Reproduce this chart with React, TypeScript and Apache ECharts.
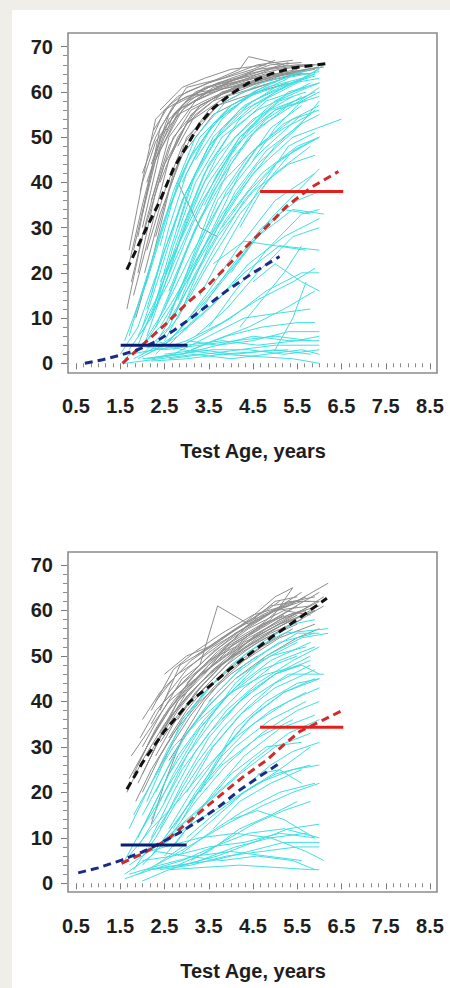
import React, { useEffect, useRef } from "react";
import * as echarts from "echarts";

type Pt = [number, number];

// ---------- TOP PANEL ----------
const topGrey: Pt[][] = [
  [[1.7,22],[2.0,35],[2.4,50],[3.0,57],[3.6,60]],
  [[1.8,25],[2.2,42],[2.6,54],[3.2,59],[4.0,62],[4.8,64]],
  [[2.25,51.5],[2.6,57],[3.0,60],[3.5,62],[4.2,65],[4.4,67.8],[5.2,66]],
  [[1.9,20],[2.3,38],[2.7,50],[3.3,57],[4.1,61],[5.0,63.5],[5.8,65]],
  [[2.0,30],[2.4,47],[2.9,56],[3.6,61],[4.5,63],[5.5,65]],
  [[1.8,15],[2.2,30],[2.6,45],[3.1,55],[3.8,60],[4.6,62],[5.6,64]],
  [[2.1,40],[2.5,52],[3.0,58],[3.7,61],[4.4,64],[5.3,66]],
  [[1.65,12],[2.0,28],[2.5,44],[3.0,53],[3.9,59],[4.9,62]],
  [[2.3,45],[2.7,55],[3.2,60],[4.0,63],[4.9,66],[5.6,66.5]],
  [[2.0,33],[2.3,45],[2.8,55],[3.4,58],[4.3,62],[5.1,64],[6.0,65.5]],
  [[1.9,28],[2.4,52],[2.8,58],[3.5,61],[4.4,63.5]],
  [[2.2,36],[2.6,48],[3.1,56],[3.9,60],[4.8,63],[5.9,65]],
  [[2.4,40],[2.8,50],[3.3,57],[4.1,61],[5.0,64],[5.8,64]],
  [[2.1,25],[2.5,38],[2.9,48],[3.5,56],[4.3,60],[5.2,63]],
  [[1.75,18],[2.1,32],[2.6,50],[3.2,58],[4.0,61.5],[4.7,63.5],[5.5,64]],
  [[2.5,50],[2.9,57],[3.4,61],[4.2,63],[5.1,65],[5.9,66]],
  [[2.0,42],[2.3,50],[2.7,57],[3.3,60],[4.0,61],[4.9,63]],
  [[2.6,45],[3.0,53],[3.6,58],[4.5,61.5],[5.4,64.5],[6.1,65.5]],
  [[2.3,28],[2.7,42],[3.1,50],[3.7,57],[4.6,60],[5.3,62]],
  [[1.95,38],[2.3,54],[2.8,59],[3.5,62],[4.5,65],[5.0,67]],
  [[2.8,48],[3.2,55],[3.8,59.5],[4.6,62],[5.5,64]],
  [[2.2,44],[2.6,55],[3.0,61],[3.8,63],[4.6,66],[5.4,67]],
  [[2.05,20],[2.4,33],[2.9,46],[3.6,55],[4.4,59]],
  [[1.85,10],[2.2,22],[2.6,38],[3.0,50],[3.7,57]],
  [[2.7,55],[3.1,59],[3.7,62],[4.5,64],[5.3,66.5]],
  [[3.0,57],[3.5,60],[4.1,62],[4.9,65],[5.7,66]],
  [[2.4,56],[2.9,61],[3.4,63],[4.0,65],[4.8,66]],
  [[3.3,59],[3.9,62],[4.6,65],[5.5,66],[6.0,66]],
  [[2.15,48],[2.5,56],[3.0,59],[3.6,60],[4.3,62]],
  [[1.7,25],[2.0,40],[2.3,49],[2.8,56],[3.4,59]],
  [[2.8,40],[3.3,30],[3.7,28]],
];

const topCyan: Pt[][] = [
  [[1.8,10],[2.2,22],[2.7,38],[3.2,50],[3.9,58],[4.7,62],[5.6,64.5]],
  [[2.0,8],[2.4,20],[2.9,36],[3.5,48],[4.3,56],[5.2,61],[6.0,65]],
  [[2.2,15],[2.6,30],[3.0,42],[3.6,53],[4.4,59],[5.3,63]],
  [[1.6,5],[2.1,18],[2.6,34],[3.1,46],[3.8,55],[4.6,60]],
  [[2.4,26],[2.8,40],[3.3,50],[4.0,57],[4.9,62],[5.8,65]],
  [[2.1,12],[2.5,25],[3.0,38],[3.7,50],[4.5,57],[5.5,62],[6.1,66]],
  [[2.6,20],[3.0,32],[3.5,44],[4.2,54],[5.0,60],[5.9,64]],
  [[1.9,6],[2.3,14],[2.8,26],[3.4,40],[4.1,50],[5.0,58],[5.8,62]],
  [[2.3,8],[2.8,20],[3.3,32],[4.0,45],[4.8,54],[5.6,59]],
  [[1.7,3],[2.2,10],[2.7,22],[3.3,35],[4.1,48],[5.0,56],[5.9,60]],
  [[2.5,12],[3.0,25],[3.6,38],[4.4,50],[5.3,57],[6.0,59]],
  [[2.0,4],[2.5,12],[3.1,24],[3.8,36],[4.6,46],[5.6,55]],
  [[2.7,10],[3.2,22],[3.8,33],[4.6,44],[5.5,52],[6.0,58]],
  [[1.8,2],[2.4,8],[3.0,18],[3.7,30],[4.5,42],[5.4,50],[6.5,54]],
  [[2.2,3],[2.8,10],[3.5,22],[4.2,33],[5.0,42],[5.8,48]],
  [[2.5,5],[3.0,14],[3.6,25],[4.3,36],[5.1,45],[6.0,50]],
  [[1.6,1],[2.1,5],[2.7,14],[3.4,26],[4.2,38],[5.0,48],[5.9,56]],
  [[2.3,2],[2.9,8],[3.5,16],[4.2,26],[5.0,36],[5.9,42]],
  [[2.6,4],[3.2,10],[3.9,20],[4.7,30],[5.5,36],[6.0,38]],
  [[1.9,1],[2.5,4],[3.1,10],[3.8,18],[4.6,28],[5.4,34],[6.1,33]],
  [[2.1,2],[2.8,6],[3.5,12],[4.3,20],[5.1,26],[6.0,25]],
  [[2.4,3],[3.0,5],[3.8,9],[4.6,14],[5.4,18],[5.9,21]],
  [[1.7,2],[2.3,3],[3.0,4],[3.8,5],[4.6,4],[5.5,5],[6.0,6]],
  [[2.0,1],[2.8,2],[3.6,3],[4.4,3],[5.2,2],[6.0,3]],
  [[2.2,0.5],[3.0,1],[3.8,2],[4.6,1.5],[5.4,1],[6.0,0]],
  [[1.8,4],[2.5,3],[3.3,4],[4.1,5],[5.0,6],[5.8,5]],
  [[2.6,1],[3.4,2],[4.2,3],[5.0,4],[6.0,4]],
  [[2.3,5],[2.9,3],[3.7,2],[4.5,2.5],[5.3,3]],
  [[2.9,2],[3.6,5],[4.4,8],[5.2,12],[5.9,16]],
  [[3.1,3],[3.9,6],[4.7,8],[5.5,9],[5.9,9]],
  [[2.0,7],[2.6,18],[3.1,30],[3.7,42],[4.4,52],[5.1,58],[5.7,60]],
  [[1.5,2],[1.9,8],[2.4,22],[2.9,36],[3.5,48],[4.2,56],[5.0,61],[5.9,63.5]],
  [[2.8,30],[3.2,42],[3.8,52],[4.5,58],[5.4,62],[6.0,63]],
  [[2.4,18],[2.9,28],[3.5,40],[4.2,50],[5.0,56],[5.7,58]],
  [[3.0,18],[3.6,30],[4.2,42],[4.9,52],[5.6,57]],
  [[3.3,15],[3.9,26],[4.6,38],[5.3,48],[5.9,51]],
  [[2.7,6],[3.4,14],[4.1,22],[4.9,32],[5.7,40],[6.0,43]],
  [[3.5,8],[4.1,16],[4.8,25],[5.6,33],[6.0,34]],
  [[2.5,8],[3.0,20],[3.5,33],[4.0,44],[4.6,52],[5.4,57],[6.0,61]],
  [[4.0,20],[4.6,28],[5.2,34],[5.8,33]],
  [[3.8,30],[4.4,38],[5.0,44],[5.6,48]],
  [[4.5,18],[5.0,22],[5.6,18],[6.0,16]],
  [[3.6,22],[4.3,27],[5.0,26],[5.7,25]],
  [[5.0,3],[5.4,10],[5.7,18]],
  [[2.2,10],[2.6,24],[3.1,40],[3.6,50],[4.3,57],[5.1,61],[5.9,64]],
  [[1.7,6],[2.0,16],[2.5,32],[3.0,44],[3.6,53],[4.4,59],[5.3,62]],
  [[2.9,12],[3.5,26],[4.1,38],[4.8,47],[5.6,53],[6.0,55]],
  [[3.2,6],[3.9,12],[4.6,20],[5.4,28],[6.0,30]],
  [[2.1,1],[2.7,2],[3.5,6],[4.3,10],[5.0,11],[5.8,12]],
  [[1.6,0],[2.4,1],[3.2,2],[4.0,1],[4.8,2],[5.6,3],[6.0,2]],
  [[2.5,2],[3.3,3],[4.1,2],[5.0,3],[5.8,2]],
  [[3.0,5],[3.7,4],[4.5,6],[5.3,5],[6.0,5]],
  [[4.2,8],[4.7,14],[5.2,20],[5.6,26]],
  [[3.4,35],[4.0,46],[4.6,54],[5.3,60],[6.0,62]],
  [[4.5,45],[5.0,52],[5.6,58],[6.0,60]],
  [[2.6,16],[3.2,30],[3.8,40],[4.5,47],[5.2,52],[5.8,55]],
  [[1.9,4],[2.4,16],[2.9,30],[3.4,42],[4.0,51],[4.8,58],[5.7,61]],
  [[2.1,6],[2.6,20],[3.1,34],[3.7,46],[4.5,54],[5.4,59]],
  [[2.3,12],[2.7,26],[3.2,40],[3.8,50],[4.6,56],[5.5,60],[6.0,62]],
  [[2.6,10],[3.1,22],[3.7,36],[4.4,46],[5.2,53],[6.0,57]],
  [[2.0,2],[2.6,8],[3.2,20],[3.9,32],[4.7,42],[5.5,48],[6.0,50]],
  [[2.8,14],[3.3,26],[3.9,38],[4.6,48],[5.4,54],[6.0,56]],
  [[2.4,6],[3.0,16],[3.7,28],[4.5,38],[5.3,44],[5.9,46]],
  [[1.8,1],[2.4,4],[3.0,8],[3.7,14],[4.4,22],[5.2,28],[6.0,32]],
  [[2.7,3],[3.3,6],[4.0,10],[4.8,16],[5.6,20],[6.0,20]],
  [[2.2,1],[2.9,2],[3.7,4],[4.5,5],[5.3,7],[6.0,7]],
  [[3.2,45],[3.8,54],[4.5,60],[5.2,63],[6.0,64.5]],
  [[2.9,40],[3.4,50],[4.0,57],[4.8,61],[5.6,63]],
  [[3.6,40],[4.2,50],[4.9,56],[5.7,59]],
  [[4.2,30],[4.8,40],[5.4,47],[6.0,50]],
];

const topBlackMean: Pt[] = [[1.65,20.7],[2.0,28],[2.4,36],[2.7,43],[3.0,48],[3.3,53],[3.6,56.4],[4.0,59.5],[4.4,62],[4.9,64],[5.4,65.3],[6.19,66.3]];
const topRedMean: Pt[] = [[1.55,0],[2.0,4],[2.55,8.9],[3.0,13.2],[3.53,17.7],[4.0,22.3],[4.43,26.6],[4.85,30.6],[5.26,34.7],[5.8,38.8],[6.43,42.4]];
const topBlueMean: Pt[] = [[0.7,0],[1.1,0.8],[1.5,1.8],[1.9,3],[2.3,4.8],[2.7,7.2],[3.1,10],[3.5,13],[3.9,16],[4.5,20],[5.1,23.6]];
const topRedLevel: Pt[] = [[4.66,38],[6.54,38]];
const topBlueLevel: Pt[] = [[1.51,4],[3.02,4]];

// ---------- BOTTOM PANEL ----------
const botGrey: Pt[][] = [
  [[1.65,20],[2.0,27],[2.5,35],[3.0,41],[3.6,47],[4.2,51],[4.9,55],[5.6,58]],
  [[1.8,24],[2.2,32],[2.6,38],[3.1,44],[3.7,49],[4.4,54],[5.2,58],[6.0,62]],
  [[2.0,30],[2.4,37],[2.9,45],[3.3,48],[3.7,61],[4.4,57],[5.0,60],[5.6,62]],
  [[1.9,22],[2.3,30],[2.8,40],[3.4,46],[4.0,52],[4.8,57],[5.5,61]],
  [[2.2,35],[2.6,42],[3.0,47],[3.6,52],[4.3,56],[5.0,60],[5.7,63]],
  [[2.1,26],[2.5,34],[3.0,42],[3.5,48],[4.1,53],[4.9,58],[5.4,65]],
  [[2.4,38],[2.85,48],[3.2,50],[3.8,54],[4.5,58],[5.3,61],[6.2,66]],
  [[1.75,28],[2.1,33],[2.6,40],[3.2,45],[3.9,50],[4.7,55],[5.5,59]],
  [[2.3,28],[2.7,35],[3.2,42],[3.8,48],[4.5,53],[5.2,57],[5.9,60]],
  [[2.0,36],[2.4,42],[2.8,46],[3.4,50],[4.1,55],[4.8,59],[5.6,64]],
  [[2.6,32],[3.0,38],[3.5,44],[4.1,50],[4.8,54],[5.5,57]],
  [[2.2,13],[2.5,22],[2.9,32],[3.4,40],[4.0,47],[4.7,52],[5.4,56]],
  [[1.85,18],[2.2,25],[2.7,33],[3.3,40],[4.0,46],[4.6,50]],
  [[2.5,40],[2.9,44],[3.4,49],[4.0,54],[4.7,59],[5.4,62],[5.9,63]],
  [[2.7,42],[3.1,46],[3.6,51],[4.2,55],[5.0,60],[5.8,61]],
  [[2.1,30],[2.6,38],[3.1,45],[3.7,51],[4.4,56],[5.2,60],[5.8,59]],
  [[2.9,38],[3.4,44],[4.0,50],[4.6,55],[5.3,59],[6.0,61]],
  [[2.4,33],[2.8,40],[3.3,46],[3.9,52],[4.6,56],[5.3,60],[6.0,64]],
  [[3.0,44],[3.5,49],[4.1,52],[4.7,57],[5.3,62],[5.8,62]],
  [[2.3,40],[2.7,45],[3.1,49],[3.7,53],[4.4,58],[5.0,63],[5.4,65]],
  [[1.95,32],[2.3,38],[2.8,43],[3.4,48],[4.0,53],[4.7,57],[5.6,60]],
  [[2.6,27],[3.0,33],[3.5,39],[4.1,45],[4.8,50],[5.5,54],[6.0,56]],
  [[3.2,50],[3.7,53],[4.3,57],[4.9,61],[5.5,62],[6.0,62]],
  [[2.0,20],[2.4,28],[2.9,36],[3.5,43],[4.2,49],[5.0,54]],
  [[2.8,36],[3.3,43],[3.9,49],[4.5,54],[5.1,58],[5.7,60]],
  [[2.5,46],[3.0,50],[3.5,52],[4.1,56],[4.8,60],[5.1,62]],
  [[3.4,46],[3.9,52],[4.5,58],[5.0,62],[5.5,63]],
  [[2.2,38],[2.7,47],[3.2,51],[3.8,55],[4.5,59],[5.2,61]],
  [[1.7,23],[2.1,30],[2.5,37],[3.0,43],[3.6,48],[4.3,53],[5.1,57],[5.9,60]],
  [[2.0,24],[2.4,32],[2.8,38],[3.3,44],[3.9,49],[4.6,54],[5.4,58]],
  [[2.2,29],[2.6,36],[3.0,41],[3.5,46],[4.2,51],[5.0,56],[5.8,60]],
  [[2.4,31],[2.8,37],[3.3,42],[3.9,48],[4.6,53],[5.4,57],[6.1,61]],
  [[1.9,26],[2.3,34],[2.7,40],[3.2,46],[3.8,51],[4.5,55],[5.2,59]],
  [[2.6,36],[3.1,42],[3.6,47],[4.2,52],[4.9,56],[5.6,60],[6.1,63]],
  [[2.3,24],[2.7,31],[3.1,37],[3.6,43],[4.3,49],[5.1,54],[5.9,57]],
];

const botCyan: Pt[][] = [
  [[1.7,12],[2.1,20],[2.6,30],[3.1,38],[3.7,45],[4.4,51],[5.2,55],[6.2,56]],
  [[1.9,10],[2.3,18],[2.8,28],[3.4,36],[4.1,43],[4.9,49],[5.8,53]],
  [[2.0,15],[2.5,24],[3.0,33],[3.6,41],[4.3,48],[5.1,53],[5.9,55]],
  [[1.6,5],[2.1,14],[2.6,24],[3.2,33],[3.9,41],[4.7,47],[5.5,50]],
  [[2.2,10],[2.7,20],[3.2,29],[3.9,38],[4.6,44],[5.4,49],[6.0,52]],
  [[1.8,3],[2.3,10],[2.9,20],[3.5,29],[4.2,37],[5.0,43],[5.9,47]],
  [[2.4,12],[2.9,22],[3.5,32],[4.2,40],[5.0,46],[5.8,49]],
  [[1.7,6],[2.2,12],[2.8,18],[3.4,25],[4.1,32],[4.9,38],[5.7,42]],
  [[2.0,4],[2.6,10],[3.2,18],[3.9,26],[4.7,33],[5.5,38],[6.0,40]],
  [[2.5,6],[3.0,12],[3.6,20],[4.3,28],[5.1,34],[5.9,37]],
  [[1.6,2],[2.2,6],[2.8,12],[3.5,18],[4.2,24],[5.0,30],[5.8,33]],
  [[2.3,4],[2.9,8],[3.6,14],[4.3,20],[5.1,25],[5.8,30]],
  [[2.1,8],[2.6,16],[3.2,26],[3.8,34],[4.5,41],[5.3,46],[6.1,46]],
  [[2.7,8],[3.3,16],[4.0,24],[4.8,30],[5.6,31]],
  [[1.9,2],[2.5,5],[3.2,9],[3.9,13],[4.7,17],[5.4,20],[6.0,22]],
  [[2.2,3],[2.9,5],[3.6,8],[4.4,11],[5.2,12],[6.0,10]],
  [[2.0,5],[2.7,6],[3.5,8],[4.3,9],[5.1,11],[5.9,10]],
  [[2.4,3],[3.1,4],[3.9,6],[4.7,7],[5.5,8],[6.0,8]],
  [[1.8,6],[2.5,8],[3.3,10],[4.1,11],[4.9,10],[5.7,7],[6.1,5]],
  [[2.6,3],[3.4,3.5],[4.2,4],[5.0,3.5],[5.8,3],[6.0,3]],
  [[2.3,7],[3.0,6],[3.8,5],[4.6,6],[5.4,5],[5.9,3]],
  [[1.6,1],[2.2,3],[2.9,4],[3.7,6],[4.5,9],[5.3,12],[6.0,13]],
  [[2.8,4],[3.5,7],[4.2,12],[4.9,15],[5.5,18]],
  [[3.0,10],[3.6,15],[4.3,20],[5.0,24],[5.8,26]],
  [[2.5,18],[3.0,28],[3.5,36],[4.1,44],[4.8,50],[5.6,54],[6.2,55]],
  [[2.1,18],[2.5,27],[2.9,36],[3.4,42],[4.0,48],[4.7,53],[5.4,57],[5.9,58]],
  [[1.8,15],[2.2,22],[2.7,30],[3.3,36],[4.0,42],[4.8,46],[5.6,48]],
  [[3.3,20],[3.9,30],[4.5,37],[5.2,42],[5.9,45]],
  [[2.9,14],[3.5,24],[4.1,34],[4.8,40],[5.5,44],[6.0,45]],
  [[3.6,12],[4.2,18],[4.9,22],[5.6,25]],
  [[2.2,14],[2.7,24],[3.3,34],[4.0,42],[4.7,49],[5.5,53]],
  [[3.1,5],[3.8,9],[4.5,13],[5.2,16],[5.8,18]],
  [[4.0,14],[4.6,16],[5.2,14],[5.9,10]],
  [[2.4,8],[3.1,13],[3.8,17],[4.6,22],[5.4,25],[6.0,26]],
  [[1.7,2],[2.4,4],[3.2,6],[4.0,7],[4.8,6],[5.6,5]],
  [[2.0,0.5],[2.6,3],[3.3,5],[4.1,8],[4.9,10],[5.7,11]],
  [[4.4,22],[4.9,26],[5.4,29],[6.0,31]],
  [[3.8,36],[4.4,42],[5.0,46],[5.6,48],[6.0,46]],
  [[2.7,12],[3.2,20],[3.8,28],[4.5,35],[5.3,40],[6.0,43]],
  [[4.6,24],[5.1,25],[5.6,22]],
  [[3.5,40],[4.1,46],[4.8,51],[5.5,55],[6.0,55]],
  [[2.3,20],[2.8,30],[3.4,38],[4.1,45],[4.9,50],[5.7,52]],
  [[1.9,8],[2.4,16],[2.9,25],[3.5,33],[4.2,40],[5.0,46],[5.8,50]],
  [[2.2,6],[2.8,14],[3.4,22],[4.1,30],[4.9,36],[5.7,40]],
  [[2.6,12],[3.1,20],[3.7,28],[4.4,36],[5.2,42],[6.0,45]],
  [[1.7,4],[2.3,8],[3.0,14],[3.7,20],[4.5,27],[5.3,33],[6.0,36]],
  [[2.5,10],[3.1,18],[3.8,26],[4.6,32],[5.4,36]],
  [[3.0,20],[3.6,30],[4.3,38],[5.0,44],[5.8,48]],
  [[2.0,12],[2.5,20],[3.0,28],[3.6,36],[4.3,43],[5.1,49],[5.9,52]],
  [[2.8,6],[3.5,11],[4.3,16],[5.1,20],[5.9,22]],
  [[2.1,3],[2.8,4],[3.6,5],[4.4,7],[5.2,9],[6.0,9]],
];

const botBlackMean: Pt[] = [[1.65,20.7],[2.0,26.5],[2.5,33.5],[3.08,40],[3.5,43.2],[4.0,47.3],[4.5,51],[4.9,54],[5.5,58],[6.17,62.7]];
const botRedMean: Pt[] = [[1.53,4.4],[2.0,6.5],[2.55,9.5],[3.1,14],[3.68,18.7],[4.25,23.2],[4.81,27.1],[5.2,30.5],[5.56,33.4],[6.0,35.5],[6.54,38.1]];
const botBlueMean: Pt[] = [[0.55,2.3],[1.0,3.4],[1.53,5.1],[2.0,6.9],[2.4,8.8],[2.85,11.2],[3.3,13.9],[3.75,17],[4.2,20.5],[4.65,23.5],[5.1,26.4]];
const botRedLevel: Pt[] = [[4.66,34.3],[6.54,34.3]];
const botBlueLevel: Pt[] = [[1.51,8.4],[3.0,8.4]];

const xTitle = "Test Age, years";

const GREY = "#8e8e8e";
const CYAN = "#3fe0e0";
const FONT = "'Liberation Sans', Arial, sans-serif";

function lineSeries(data: Pt[], gi: number, color: string, width: number, dashed: boolean, z: number) {
  return {
    type: "line",
    xAxisIndex: gi,
    yAxisIndex: gi,
    data,
    showSymbol: false,
    symbol: "none",
    silent: true,
    clip: false,
    z,
    lineStyle: { color, width, type: dashed ? [8, 5] : "solid", cap: "butt" },
  };
}

function panelSeries(gi: number, grey: Pt[][], cyan: Pt[][], black: Pt[], red: Pt[], blue: Pt[], redL: Pt[], blueL: Pt[]) {
  const s: any[] = [];
  grey.forEach((t) => s.push(lineSeries(t, gi, GREY, 1, false, 2)));
  cyan.forEach((t) => s.push(lineSeries(t, gi, CYAN, 1, false, 3)));
  s.push(lineSeries(black, gi, "#111111", 3, true, 5));
  s.push(lineSeries(red, gi, "#d22a2a", 3, true, 5));
  s.push(lineSeries(blue, gi, "#1b2c86", 3, true, 5));
  s.push(lineSeries(redL, gi, "#e41e1a", 3, false, 6));
  s.push(lineSeries(blueL, gi, "#0c1c74", 3, false, 6));
  return s;
}

const labelStyle = { fontSize: 20, fontWeight: "bold", color: "#1e1e1e", fontFamily: FONT };

function xAxisOf(gi: number) {
  return {
    type: "value",
    gridIndex: gi,
    min: 0.5,
    max: 8.5,
    interval: 1,
    offset: 13,
    axisLine: { show: false },
    axisTick: { show: true, length: 6, lineStyle: { color: "#7a7a7a", width: 1 } },
    minorTick: { show: true, splitNumber: 6, length: 4, lineStyle: { color: "#8a8a8a", width: 1 } },
    splitLine: { show: false },
    minorSplitLine: { show: false },
    axisLabel: { ...labelStyle, margin: 20, formatter: (v: number) => v.toFixed(1) },
    name: xTitle,
    nameLocation: "middle",
    nameGap: 65,
    nameTextStyle: { ...labelStyle },
  };
}

function yAxisOf(gi: number) {
  return {
    type: "value",
    gridIndex: gi,
    min: 0,
    max: 70,
    interval: 10,
    offset: 9,
    axisLine: { show: false },
    axisTick: { show: true, length: 6, lineStyle: { color: "#7a7a7a", width: 1 } },
    minorTick: { show: true, splitNumber: 5, length: 4, lineStyle: { color: "#8a8a8a", width: 1 } },
    splitLine: { show: false },
    minorSplitLine: { show: false },
    axisLabel: { ...labelStyle, margin: 14 },
  };
}

export default function App() {
  const ref = useRef<HTMLDivElement>(null);
  useEffect(() => {
    if (!ref.current) return;
    const chart = echarts.init(ref.current, undefined, { renderer: "svg" });
    chart.setOption({
      animation: false,
      backgroundColor: "#efeee9",
      graphic: [
        { type: "rect", z: 0, silent: true, shape: { x: 12, y: 10, width: 438, height: 978 }, style: { fill: "#ffffff" } },
        { type: "rect", z: 1, silent: true, shape: { x: 68, y: 33, width: 369, height: 340 }, style: { fill: "none", stroke: "#8c8c8c", lineWidth: 1.6 } },
        { type: "rect", z: 1, silent: true, shape: { x: 68, y: 552, width: 369, height: 340 }, style: { fill: "none", stroke: "#8c8c8c", lineWidth: 1.6 } },
      ],
      grid: [
        { left: 76, right: 20, top: 46.7, height: 316.6 },
        { left: 76, right: 20, top: 565, height: 318.3 },
      ],
      xAxis: [xAxisOf(0), xAxisOf(1)],
      yAxis: [yAxisOf(0), yAxisOf(1)],
      series: [
        ...panelSeries(0, topGrey, topCyan, topBlackMean, topRedMean, topBlueMean, topRedLevel, topBlueLevel),
        ...panelSeries(1, botGrey, botCyan, botBlackMean, botRedMean, botBlueMean, botRedLevel, botBlueLevel),
      ],
    });
    return () => chart.dispose();
  }, []);
  return (
    <div
      ref={ref}
      style={{ position: "fixed", left: 0, top: 0, width: 450, height: 988 }}
    />
  );
}
